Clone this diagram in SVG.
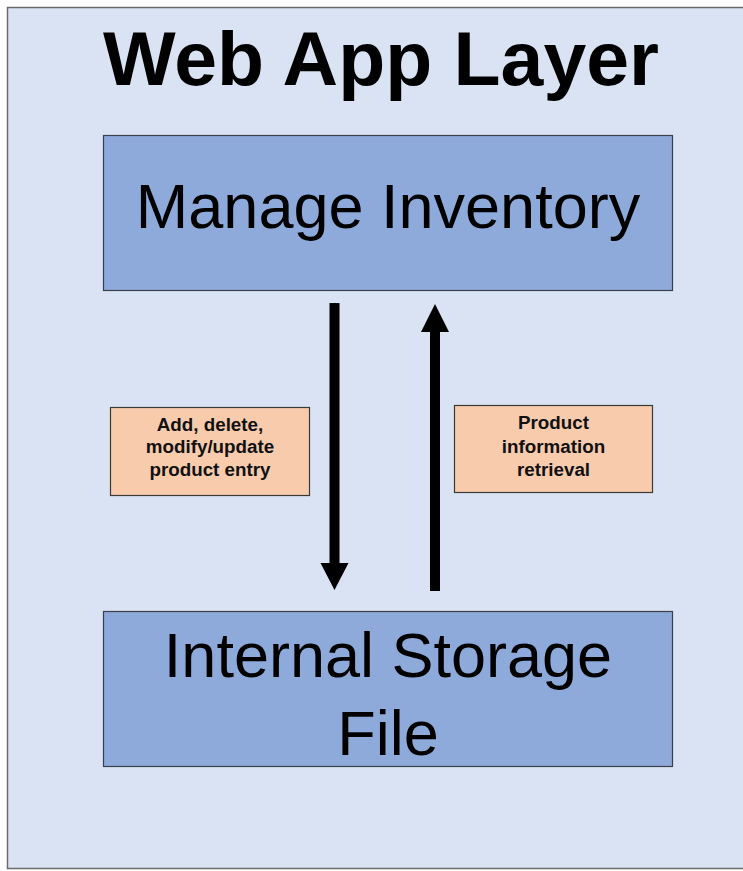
<svg xmlns="http://www.w3.org/2000/svg" width="743" height="871" viewBox="0 0 743 871">
<style>
.box{fill:#8eaadb;stroke:#3a3f4a;stroke-width:1.2}
.lbl{fill:#f8cbad;stroke:#3a3a3a;stroke-width:1.2}
.big{font-family:"Liberation Sans",Arial,sans-serif;font-size:63px;fill:#000;text-anchor:middle}
.small{font-family:"Liberation Sans",Arial,sans-serif;font-size:18.8px;font-weight:bold;fill:#111;text-anchor:middle}
.title{font-family:"Liberation Sans",Arial,sans-serif;font-size:76px;font-weight:bold;fill:#000;text-anchor:middle}
</style>
<rect width="743" height="871" fill="#ffffff"/>
<g id="frame">
<rect x="7.5" y="7.5" width="745" height="861" fill="#dae3f3" stroke="#6b6b6b" stroke-width="1.5"/>
<text class="title" x="381" y="85" textLength="556" lengthAdjust="spacingAndGlyphs">Web App Layer</text>
</g>
<g id="manage-inventory">
<rect class="box" x="103.5" y="135.5" width="569" height="155"/>
<text class="big" x="388" y="228">Manage Inventory</text>
</g>
<g id="internal-storage">
<rect class="box" x="103.5" y="611.5" width="569" height="155"/>
<text class="big" x="388" y="677">Internal Storage</text>
<text class="big" x="388" y="755">File</text>
</g>
<g id="connectors">
<polygon points="329.5,303 339.5,303 339.5,563 348.5,563 334.5,590 320.5,563 329.5,563" fill="#000"/>
<polygon points="430,591 440,591 440,332 449,332 435,304 421,332 430,332" fill="#000"/>
</g>
<g id="label-add">
<rect class="lbl" x="110.5" y="407.5" width="199" height="88"/>
<text class="small" x="210" y="431">Add, delete,</text>
<text class="small" x="210" y="453">modify/update</text>
<text class="small" x="210" y="476">product entry</text>
</g>
<g id="label-retrieval">
<rect class="lbl" x="454.5" y="405.5" width="198" height="87"/>
<text class="small" x="553.5" y="429">Product</text>
<text class="small" x="553.5" y="453">information</text>
<text class="small" x="553.5" y="476">retrieval</text>
</g>
</svg>
